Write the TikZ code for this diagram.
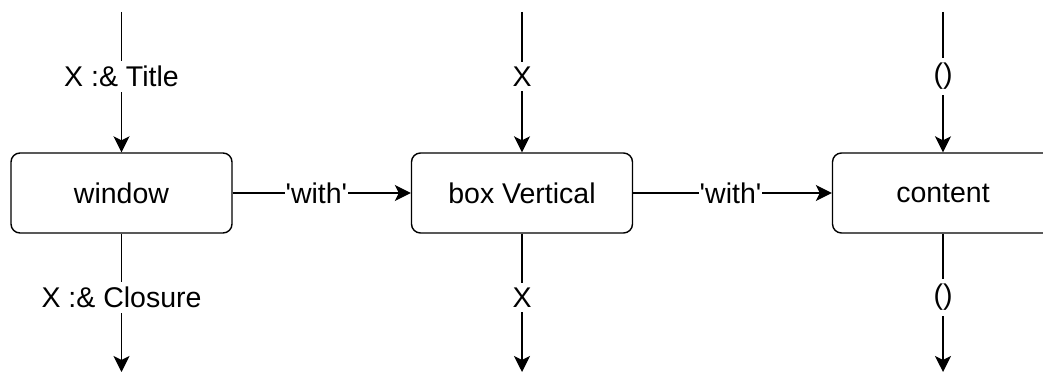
\documentclass[tikz,border=0pt]{standalone}
\usepackage{fontspec}
\setmainfont{Liberation Sans}
\usetikzlibrary{arrows.meta}
\begin{document}
\begin{tikzpicture}[x=1pt,y=-1pt,
  box/.style={draw, line width=1.4pt, rounded corners=9pt, minimum width=221pt, minimum height=80pt, inner sep=0pt, font=\fontsize{28.5}{32}\selectfont},
  lbl/.style={fill=white, inner xsep=1pt, inner ysep=5pt, font=\fontsize{28.5}{32}\selectfont},
  conn/.style={line width=1.4pt, -{Stealth[length=16pt,width=16pt,inset=4pt]}}]
\clip (0,0) rectangle (1043,374);
\fill[white] (0,0) rectangle (1043,374);
\node[box] (w) at (121.5,193) {window};
\node[box] (b) at (522,193) {box Vertical};
\node[box] (c) at (943,193) {content};
\coordinate (wt) at (121.5,12);
\coordinate (wb) at (121.5,372);
\coordinate (bt) at (522,12);
\coordinate (bb) at (522,372);
\coordinate (ct) at (943,12);
\coordinate (cb) at (943,372);
\draw[conn] (wt) -- node[lbl, pos=0.46] {X :\& Title} (w);
\draw[conn] (w) -- node[lbl, pos=0.46] {X :\& Closure} (wb);
\draw[conn] (bt) -- node[lbl, pos=0.46] {X} (b);
\draw[conn] (b) -- node[lbl, pos=0.46] {X} (bb);
\draw[conn] (ct) -- node[lbl, pos=0.46] {()} (c);
\draw[conn] (c) -- node[lbl, pos=0.46] {()} (cb);
\draw[conn] (w) -- node[lbl, pos=0.47] {\textquotesingle with\textquotesingle} (b);
\draw[conn] (b) -- node[lbl, pos=0.49] {\textquotesingle with\textquotesingle} (c);
\end{tikzpicture}
\end{document}
